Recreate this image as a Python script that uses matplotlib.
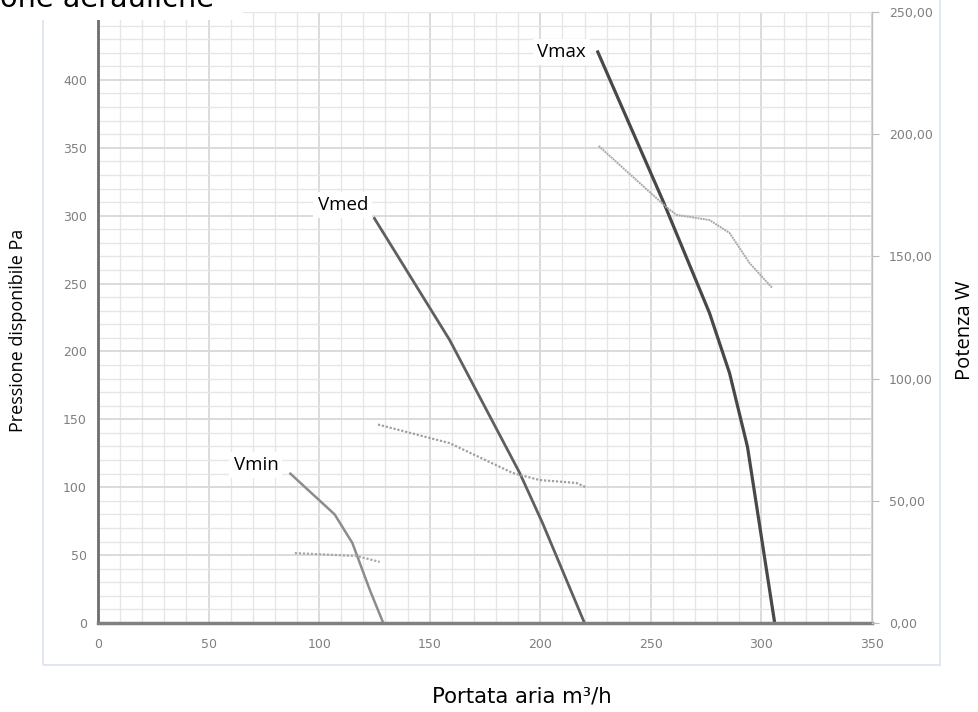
import numpy as np
import matplotlib.pyplot as plt
from matplotlib.ticker import MultipleLocator, FuncFormatter
from matplotlib.patches import Rectangle

# pressure curves (Pa) vs air flow (m3/h)
vmin_q = [87, 107, 115, 123, 129]
vmin_p = [110, 80, 59, 24, 0]
vmed_q = [125, 159, 190.7, 201, 220]
vmed_p = [298, 208.5, 110.5, 73.7, 0]
vmax_q = [226, 255.3, 276.5, 285.6, 293.7, 306]
vmax_p = [420.6, 311.6, 228.4, 184, 129.7, 0]

# power curves (W)
wmin_q = [89, 117, 127.4]
wmin_w = [28.6, 27.4, 25.0]
wmed_q = [126.6, 159, 187.5, 199.7, 216.4, 220.5]
wmed_w = [81.2, 73.6, 61.4, 58.5, 57.3, 55.6]
wmax_q = [226.4, 257, 261.6, 276.5, 285.6, 294.6, 305]
wmax_w = [195.2, 170.2, 167, 164.9, 159.6, 147.3, 137]

labels = ["Vmin", "Vmed", "Vmax"]
label_pos = [(71.4, 116.4), (110.7, 308), (209.7, 420.6)]

fig = plt.figure(figsize=(9.79, 7.12), dpi=100)
ax = fig.add_axes([0.1001, 0.125, 0.7906, 0.8581])
ax2 = ax.twinx()

ax.set_xlim(0, 350)
ax.set_ylim(0, 450)
ax2.set_ylim(0, 250)

ax.xaxis.set_major_locator(MultipleLocator(50))
ax.xaxis.set_minor_locator(MultipleLocator(10))
ax.set_yticks(np.arange(0, 401, 50))
ax.yaxis.set_minor_locator(MultipleLocator(10))
ax2.yaxis.set_major_locator(MultipleLocator(50))
ax2.yaxis.set_major_formatter(FuncFormatter(lambda v, p: f"{v:.2f}".replace(".", ",")))

ax.grid(which="major", color="#d8d8d8", lw=1.3)
ax.grid(which="minor", color="#e6e6e6", lw=1.0)
ax.set_axisbelow(True)

ax.tick_params(which="both", length=0, labelsize=9, labelcolor="#7f7f7f")
ax.tick_params(axis="y", pad=8)
ax.tick_params(axis="x", pad=11)
ax2.tick_params(axis="y", length=5, color="#bbbbbb", labelsize=9, labelcolor="#7f7f7f", pad=7)

for s in ["top", "right"]:
    ax.spines[s].set_visible(False)
for s in ["top", "left", "bottom"]:
    ax2.spines[s].set_visible(False)
ax.spines["left"].set_color("#6e6e6e")
ax.spines["left"].set_linewidth(2)
ax.spines["bottom"].set_color("#808080")
ax.spines["bottom"].set_linewidth(2.5)
ax2.spines["right"].set_color("#c0c0c0")
ax2.spines["right"].set_linewidth(1)

ax.plot(vmin_q, vmin_p, color="#8c8c8c", lw=1.8, clip_on=False)
ax.plot(vmed_q, vmed_p, color="#5f5f5f", lw=2.0, clip_on=False)
ax.plot(vmax_q, vmax_p, color="#484848", lw=2.3, clip_on=False)

dot = (0, (1, 0.8))
ax2.plot(wmin_q, wmin_w, color="#a8a8a8", lw=1.6, ls=dot)
ax2.plot(wmed_q, wmed_w, color="#a0a0a0", lw=1.6, ls=dot)
ax2.plot(wmax_q, wmax_w, color="#a8a8a8", lw=1.4, ls=(0, (1, 0.4)))

for t, (x, y) in zip(labels, label_pos):
    ax2.text(x, y * 250 / 450, t, ha="center", va="center", fontsize=13.5,
             family="Open Sans", color="black",
             bbox=dict(facecolor="white", edgecolor="none", pad=3))

fig.text(18 / 979, 1 - 330 / 712, "Pressione disponibile Pa", rotation=90,
         ha="center", va="center", fontsize=13, family="Open Sans")
fig.text(965 / 979, 1 - 330 / 712, "Potenza W", rotation=90,
         ha="center", va="center", fontsize=14.5, family="Open Sans")
fig.text(522 / 979, 1 - 696 / 712, "Portata aria m³/h",
         ha="center", va="center", fontsize=15.3, family="DejaVu Sans")

# outer chart frame
fig.patches.append(Rectangle((43 / 979, 1 - 665 / 712), (940 - 43) / 979, 0.98,
                             transform=fig.transFigure, fill=False,
                             edgecolor="#dce3ee", lw=1.2, zorder=1))
# white title box cutting into the chart
fig.patches.append(Rectangle((0, 1 - 20 / 712), 243 / 979, 20 / 712,
                             transform=fig.transFigure, facecolor="white",
                             edgecolor="none", zorder=5))
fig.text(0, 1 - 7 / 712, "one aerauliche", ha="left", va="baseline",
         fontsize=20.7, family="DejaVu Sans", zorder=6)

fig.savefig("out.png", dpi=100)
